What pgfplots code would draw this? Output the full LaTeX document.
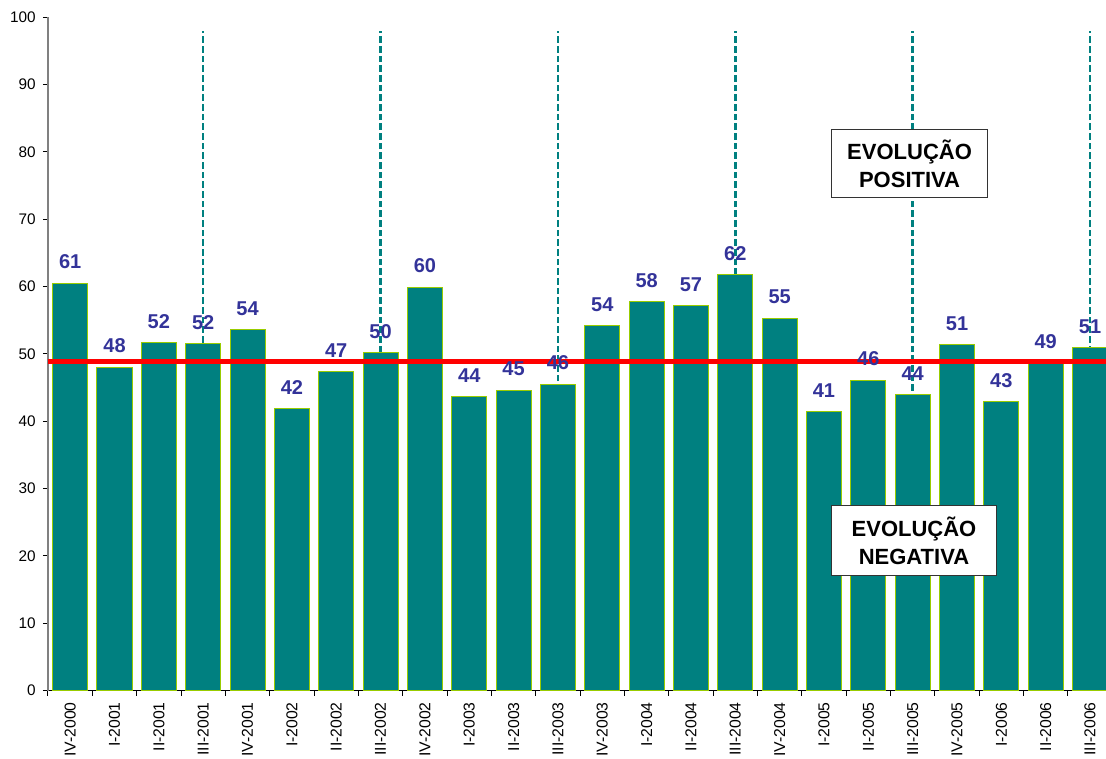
\documentclass[border=0pt]{standalone}
\usepackage{pgfplots}
\usepackage{pgfplotstable}
\usepackage{fontspec}
\setmainfont{Liberation Sans}
\pgfplotsset{compat=1.18}

\definecolor{barfill}{RGB}{0,128,128}
\definecolor{baredge}{RGB}{153,204,0}
\definecolor{lblblue}{RGB}{51,51,153}

% quarterly values (bar height, printed label)
\pgfplotstableread{
x y lab
0 60.5 61
1 48.0 48
2 51.7 52
3 51.5 52
4 53.6 54
5 41.9 42
6 47.3 47
7 50.2 50
8 59.9 60
9 43.7 44
10 44.6 45
11 45.5 46
12 54.2 54
13 57.7 58
14 57.1 57
15 61.8 62
16 55.3 55
17 41.4 41
18 46.1 46
19 43.9 44
20 51.4 51
21 42.9 43
22 48.6 49
23 50.9 51
}\quarters

\begin{document}
\begin{tikzpicture}
\begin{axis}[
  at={(0,0)}, anchor=south west,
  scale only axis,
  width=793.5pt, height=505.1pt,
  xmin=-0.5, xmax=23.36,
  ymin=0, ymax=100,
  axis x line*=bottom,
  axis y line*=left,
  x axis line style={black, line width=1pt},
  y axis line style={gray, line width=1.5pt},
  tick align=outside,
  major tick length=3.75pt,
  tick style={black, line width=0.75pt},
  ytick={0,10,...,100},
  yticklabel style={font=\fontsize{11.5}{12}\selectfont, xshift=-2pt},
  /pgf/number format/assume math mode=true,
  xtick={0,...,23},
  xticklabels={IV-2000,I-2001,II-2001,III-2001,IV-2001,I-2002,II-2002,III-2002,IV-2002,I-2003,II-2003,III-2003,IV-2003,I-2004,II-2004,III-2004,IV-2004,I-2005,II-2005,III-2005,IV-2005,I-2006,II-2006,III-2006},
  x tick label style={rotate=90, anchor=east, font=\fontsize{11.8}{12}\selectfont, xshift=-1.5pt},
  xtick style={draw=none},
  extra x ticks={-0.5,0.5,...,22.5},
  extra x tick labels={},
  extra x tick style={xtick style={draw=black}},
]
% dashed markers at the third quarters, behind the bars
\addplot[barfill, dash pattern=on 5pt off 2.25pt, line width=1.9pt] coordinates {(3,0) (3,98)};
\addplot[barfill, dash pattern=on 5pt off 2.25pt, line width=1.9pt] coordinates {(7,0) (7,98)};
\addplot[barfill, dash pattern=on 5pt off 2.25pt, line width=1.9pt] coordinates {(11,0) (11,98)};
\addplot[barfill, dash pattern=on 5pt off 2.25pt, line width=1.9pt] coordinates {(15,0) (15,98)};
\addplot[barfill, dash pattern=on 5pt off 2.25pt, line width=1.9pt] coordinates {(19,0) (19,98)};
\addplot[barfill, dash pattern=on 5pt off 2.25pt, line width=1.9pt] coordinates {(23,0) (23,98)};

\addplot[ybar, bar width=0.79, fill=barfill, draw=baredge, line width=0.75pt,
  point meta=explicit symbolic,
  nodes near coords,
  every node near coord/.append style={font=\fontsize{15}{15}\selectfont\bfseries,
    text=lblblue, inner sep=0pt, yshift=10.2pt}]
  table[x=x, y=y, meta=lab] {\quarters};

% reference level
\addplot[red, line width=3.5pt] coordinates {(-0.5,48.9) (23.36,48.9)};

\node[draw=black!80, fill=white, line width=0.75pt, align=center,
  minimum width=117pt, minimum height=51pt, inner sep=0pt,
  font=\fontsize{16.5}{21}\selectfont\bfseries]
  at (axis cs:18.93,78.2) {EVOLUÇÃO\\POSITIVA};
\node[draw=black!80, fill=white, line width=0.75pt, align=center,
  minimum width=124pt, minimum height=53pt, inner sep=0pt,
  font=\fontsize{16.5}{21}\selectfont\bfseries]
  at (axis cs:19.03,22.28) {EVOLUÇÃO\\NEGATIVA};
\end{axis}
\pgfresetboundingbox
\path[use as bounding box] (-36pt,-50.6pt) rectangle (793.5pt,517.9pt);
\end{tikzpicture}
\end{document}
